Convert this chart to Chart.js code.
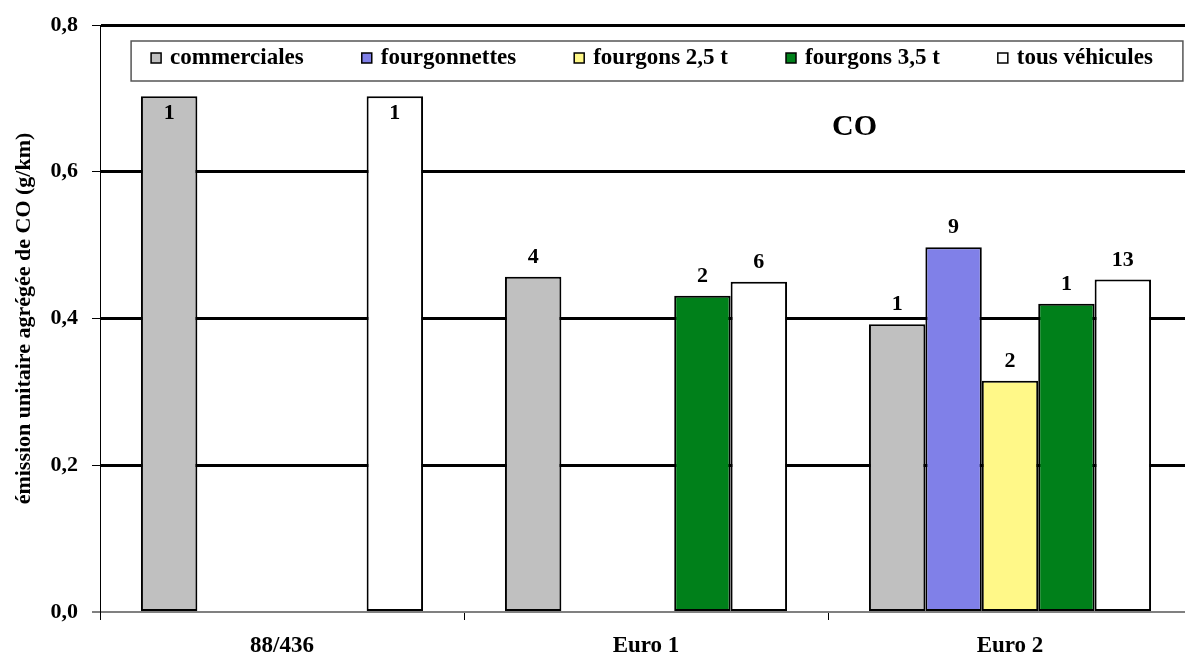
<!DOCTYPE html>
<html lang="fr">
<head>
<meta charset="utf-8">
<title>CO</title>
<script src="https://cdn.jsdelivr.net/npm/chart.js@4.4.1/dist/chart.umd.min.js"></script>
<style>
  html, body { margin: 0; padding: 0; background: #fff; overflow: hidden; }
  #wrap { width: 1192px; height: 655px; position: relative; }
</style>
</head>
<body>
<div id="wrap"><canvas id="chart"></canvas></div>
<script>
// categories and values (g/km)
const categories = ['88/436', 'Euro 1', 'Euro 2'];

const commerciales = [0.703, 0.457, 0.392];
const fourgonnettes = [null, null, 0.497];
const fourgons25 = [null, null, 0.315];
const fourgons35 = [null, 0.431, 0.420];
const tousVehicules = [0.703, 0.450, 0.453];

// number of vehicles shown above each bar
const nCommerciales = [1, 4, 1];
const nFourgonnettes = [null, null, 9];
const nFourgons25 = [null, null, 2];
const nFourgons35 = [null, 2, 1];
const nTousVehicules = [1, 6, 13];

const yTicks = [0, 0.2, 0.4, 0.6, 0.8];

const FONT = "'Liberation Serif', 'Times New Roman', serif";

const SERIES = [
    { label: 'commerciales', data: commerciales, counts: nCommerciales, color: '#c0c0c0' },
    { label: 'fourgonnettes', data: fourgonnettes, counts: nFourgonnettes, color: '#8080e8' },
    { label: 'fourgons 2,5 t', data: fourgons25, counts: nFourgons25, color: '#fff888' },
    { label: 'fourgons 3,5 t', data: fourgons35, counts: nFourgons35, color: '#00801a' },
    { label: 'tous véhicules', data: tousVehicules, counts: nTousVehicules, color: '#ffffff' },
];

// ── framed legend drawn inside the plot area, one row ──
const boxLegend = {
    id: 'boxLegend',
    afterDraw(chart) {
        const ctx = chart.ctx;
        const gap = 58, mark = 10, textGap = 9;
        ctx.save();
        ctx.font = `bold 23px ${FONT}`;
        const widths = SERIES.map(s => mark + textGap + ctx.measureText(s.label).width);
        const total = widths.reduce((a, b) => a + b, 0) + gap * (SERIES.length - 1);
        const cx = 652;
        const cy = 58;
        let x = cx - total / 2;

        ctx.strokeStyle = '#555';
        ctx.lineWidth = 1.5;
        ctx.strokeRect(x - 20, cy - 17, total + 50, 40);

        ctx.textBaseline = 'middle';
        ctx.textAlign = 'left';
        SERIES.forEach((s, i) => {
            ctx.fillStyle = s.color;
            ctx.fillRect(x, cy - 5, mark, mark);
            ctx.strokeStyle = '#000';
            ctx.lineWidth = 1.5;
            ctx.strokeRect(x, cy - 5, mark, mark);
            ctx.fillStyle = '#000';
            ctx.fillText(s.label, x + mark + textGap, cy);
            x += widths[i] + gap;
        });
        ctx.restore();
    }
};

// ── counts above bars and the "CO" title ──
const barLabels = {
    id: 'barLabels',
    afterDatasetsDraw(chart) {
        const ctx = chart.ctx;
        const lgBottom = 81;
        ctx.save();
        ctx.fillStyle = '#000';
        ctx.textAlign = 'center';
        ctx.font = `bold 22px ${FONT}`;
        SERIES.forEach((s, i) => {
            const meta = chart.getDatasetMeta(i);
            meta.data.forEach((bar, j) => {
                const n = s.counts[j];
                if (n == null || s.data[j] == null) return;
                if (bar.y - 36 < lgBottom) {
                    ctx.textBaseline = 'top';
                    ctx.fillText(String(n), bar.x, bar.y + 6);
                } else {
                    ctx.textBaseline = 'alphabetic';
                    ctx.fillText(String(n), bar.x, bar.y - 14);
                }
            });
        });
        const area = chart.chartArea;
        const y = chart.scales.y.getPixelForValue(0.66);
        ctx.font = `bold 30px ${FONT}`;
        ctx.textBaseline = 'middle';
        ctx.fillText('CO', area.left + 0.691 * (area.right - area.left), y);
        ctx.restore();
    }
};

new Chart(document.getElementById('chart'), {
    type: 'bar',
    data: {
        labels: categories,
        datasets: SERIES.map(s => ({
            label: s.label,
            data: s.data,
            backgroundColor: s.color,
            borderColor: '#000',
            borderWidth: 2,
            borderSkipped: false,
            categoryPercentage: 0.775,
            barPercentage: 1,
        }))
    },
    options: {
        responsive: true,
        maintainAspectRatio: false,
        animation: false,
        layout: { padding: { top: 20, left: 0, right: 0, bottom: 0 } },
        scales: {
            x: {
                afterFit: s => { s.height = 43; },
                grid: {
                    display: true,
                    drawOnChartArea: false,
                    tickLength: 8,
                    color: '#000',
                    lineWidth: 1,
                },
                border: { display: true, color: '#808080', width: 2 },
                ticks: {
                    color: '#000',
                    padding: 12,
                    font: { family: FONT, size: 23, weight: 'bold' }
                }
            },
            y: {
                min: 0,
                max: 0.8,
                afterFit: s => { s.width = 100; },
                afterBuildTicks: s => { s.ticks = yTicks.map(v => ({ value: v })); },
                grid: {
                    color: c => (c.tick && c.tick.value === 0 ? '#808080' : '#000'),
                    lineWidth: c => (c.tick && c.tick.value === 0 ? 2 : 3),
                    tickLength: 8,
                    tickColor: '#000',
                    tickWidth: 1,
                },
                border: { display: true, color: '#000', width: 1 },
                ticks: {
                    color: '#000',
                    padding: 14,
                    font: { family: FONT, size: 22, weight: 'bold', lineHeight: 1 },
                    callback: v => v.toFixed(1).replace('.', ',')
                },
                title: {
                    display: true,
                    text: 'émission unitaire agrégée de CO (g/km)',
                    color: '#000',
                    padding: { top: 11, bottom: 0 },
                    font: { family: FONT, size: 22, weight: 'bold' }
                }
            }
        },
        plugins: {
            legend: { display: false },
            tooltip: { enabled: false }
        }
    },
    plugins: [boxLegend, barLabels]
});
</script>
</body>
</html>
